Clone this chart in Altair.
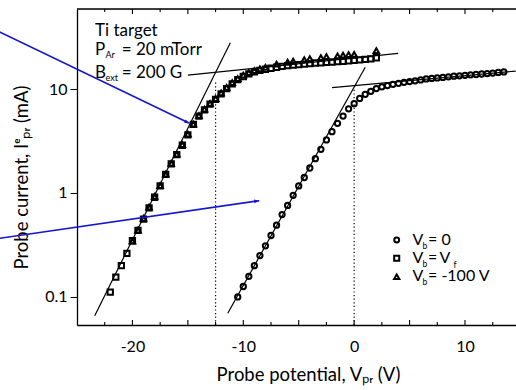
import altair as alt
import pandas as pd

FONT = "Lato"
BLUE = "#1414d2"

# ---- data ----
circ_x = [-10.5, -10.0, -9.5, -9.0, -8.5, -8.0, -7.5, -7.0, -6.5, -6.0, -5.5, -5.0, -4.5, -4.0,
          -3.5, -3.0, -2.5, -2.0, -1.5, -1.0, -0.5, 0.0, 0.5, 1.0, 1.5, 2.0, 2.5, 3.0, 3.5, 4.0,
          4.5, 5.0, 5.5, 6.0, 6.5, 7.0, 7.5, 8.0, 8.5, 9.0, 9.5, 10.0, 10.5, 11.0, 11.5, 12.0,
          12.5, 13.0, 13.5]
circ_y = [0.100, 0.126, 0.158, 0.20, 0.25, 0.31, 0.39, 0.49, 0.62, 0.76, 0.95, 1.17, 1.41, 1.74,
          2.14, 2.63, 3.24, 3.89, 4.68, 5.50, 6.46, 7.24, 8.13, 8.9, 9.5, 10.1, 10.5, 10.8, 11.1,
          11.35, 11.6, 11.8, 12.0, 12.25, 12.5, 12.65, 12.8, 12.95, 13.1, 13.3, 13.4, 13.55,
          13.7, 13.8, 13.95, 14.1, 14.25, 14.45, 14.6]

sq_x = [-22.0, -21.5, -21.0, -20.5, -20.0, -19.5, -19.0, -18.5, -18.0, -17.5, -17.0, -16.5,
        -16.0, -15.5, -15.0, -14.5, -14.0, -13.5, -13.0, -12.5, -12.0, -11.5, -11.0, -10.5,
        -10.0, -9.5, -9.0, -8.5, -8.0, -7.5, -7.0, -6.5, -6.0, -5.5, -5.0, -4.5, -4.0, -3.5,
        -3.0, -2.5, -2.0, -1.5, -1.0, -0.5, 0.0, 0.5, 1.0, 1.5, 2.0]
sq_y = [0.111, 0.155, 0.20, 0.263, 0.347, 0.437, 0.56, 0.72, 0.91, 1.17, 1.51, 1.91, 2.34,
        2.88, 3.63, 4.57, 5.5, 6.3, 7.16, 7.94, 9.0, 10.1, 11.2, 12.3, 13.2, 14.0, 14.6, 15.1,
        15.5, 15.85, 16.2, 16.5, 16.8, 17.0, 17.2, 17.4, 17.6, 17.8, 17.9, 18.1, 18.2, 18.4,
        18.5, 18.7, 18.9, 19.05, 19.3, 19.5, 20.0]

tri_x = [-20.0, -19.5, -19.0, -18.5, -18.0, -17.5, -17.0, -16.5, -16.0, -15.5, -15.0, -14.5,
         -14.0, -13.5, -13.0, -12.5, -12.0, -11.5, -11.0, -10.5, -10.0, -9.5, -9.0, -8.5,
         -8.0, -7.0, -6.0, -5.5, -4.5, -4.0, -3.0, -2.5, -1.5, -1.0, -0.5, 0.0, 2.0]
tri_y = [0.345, 0.44, 0.57, 0.73, 0.93, 1.18, 1.52, 1.93, 2.37, 2.92, 3.68, 4.6, 5.55, 6.4,
         7.3, 8.1, 9.2, 10.4, 11.5, 12.6, 13.6, 14.4, 15.0, 15.6, 16.2, 17.4, 18.2, 18.6,
         19.2, 19.6, 20.1, 20.5, 20.9, 21.2, 21.4, 21.6, 23.4]

# fitted straight lines (two end points each)
fit_id = ["a", "a", "b", "b", "c", "c", "d", "d"]
fit_x = [-23.4, -11.17, -15.0, 3.96, -11.4, 1.0, -2.0, 14.57]
fit_y = [0.066, 27.9, 13.6, 22.0, 0.0697, 16.2, 10.3, 14.9]

# dotted verticals at the knees
knee_x = [-12.5, 0.0]
knee_top = [12.0, 10.0]
Y_MIN, Y_MAX = 0.0537, 58.9
X_MIN, X_MAX = -25.0, 14.6

# blue annotation arrows (start -> tip)
arrow_x0 = [-32.0, -32.0]
arrow_y0 = [35.6, 0.366]
arrow_x1 = [-14.86, -8.56]
arrow_y1 = [4.68, 0.843]
arrow_angle = [25.7, 351.8]

major_ticks = [-20, -15, -10, -5, 0, 5, 10]
minor_ticks = [-22.5, -17.5, -12.5, -7.5, -2.5, 2.5, 7.5, 12.5]
y_labels = [0.1, 1, 10]

W, H = 439, 316

xs = alt.Scale(domain=[X_MIN, X_MAX], nice=False, zero=False)
ys = alt.Scale(type="log", domain=[Y_MIN, Y_MAX], nice=False)

circ = pd.DataFrame({"x": circ_x, "y": circ_y})
sq = pd.DataFrame({"x": sq_x, "y": sq_y})
tri = pd.DataFrame({"x": tri_x, "y": tri_y})
fits = pd.DataFrame({"id": fit_id, "x": fit_x, "y": fit_y})
knees = pd.DataFrame({"x": knee_x, "y": [Y_MIN] * len(knee_x), "y2": knee_top})
one = pd.DataFrame({"a": [0]})

x_axis = alt.Axis(values=[-20, -10, 0, 10], ticks=False, labelPadding=13, labelFontSize=16,
                  labelFont=FONT, labelColor="black", domainColor="black", domainWidth=1.3,
                  grid=False, title="Probe potential, Vₚᵣ  (V)", titleFont=FONT,
                  titleFontSize=18.5, titleFontWeight="normal", titleColor="black",
                  titleX=231, titleY=55, titleBaseline="alphabetic",
                  labelExpr="replace(datum.label, '−', '-')")
y_axis = alt.Axis(values=y_labels, format="~g", ticks=True, tickSize=7, tickColor="black",
                  labelPadding=3, labelFontSize=16, labelFont=FONT, labelColor="black",
                  domainColor="black", domainWidth=1.3, grid=False,
                  title="Probe current, Iᵉₚᵣ (mA)", titleFont=FONT, titleFontSize=18.5,
                  titleFontWeight="normal", titleColor="black", titleAngle=-90,
                  titleX=-50, titleY=168, titleBaseline="alphabetic", titleAlign="center")

X = alt.X("x:Q", scale=xs, axis=x_axis)
Y = alt.Y("y:Q", scale=ys, axis=y_axis)


def pts(df, shape, size):
    return alt.Chart(df).mark_point(shape=shape, filled=False, color="black", strokeWidth=2,
                                    size=size, opacity=1).encode(x=X, y=Y)


lines = alt.Chart(fits).mark_line(color="black", strokeWidth=1.2).encode(
    x=X, y=Y, detail="id:N")

dots = alt.Chart(knees).mark_rule(color="black", strokeWidth=1.2, strokeDash=[1.2, 2.4]).encode(
    x=X, y=Y, y2="y2:Q")

tick_layers = []
for vals, ln in [(major_ticks, 5), (minor_ticks, 3)]:
    tdf = pd.DataFrame({"x": vals})
    tick_layers.append(alt.Chart(tdf).mark_rule(color="black", strokeWidth=1.1).encode(
        x=X, y=alt.value(H), y2=alt.value(H - ln)))
    tick_layers.append(alt.Chart(tdf).mark_rule(color="black", strokeWidth=1.1).encode(
        x=X, y=alt.value(0), y2=alt.value(ln)))

top_border = alt.Chart(one).mark_rule(color="black", strokeWidth=1.3).encode(
    x=alt.value(0), x2=alt.value(W), y=alt.value(0))

arrow_layers = []
for i in range(len(arrow_x0)):
    adf = pd.DataFrame({"x": [arrow_x0[i], arrow_x1[i]], "y": [arrow_y0[i], arrow_y1[i]]})
    arrow_layers.append(alt.Chart(adf).mark_line(color=BLUE, strokeWidth=1.6).encode(x=X, y=Y))
    hdf = pd.DataFrame({"x": [arrow_x1[i]], "y": [arrow_y1[i]]})
    arrow_layers.append(alt.Chart(hdf).mark_point(
        shape="M0,0L-1,-0.38L-1,0.38Z", filled=True, color=BLUE, size=100, opacity=1,
        angle=arrow_angle[i]).encode(x=X, y=Y))


def label(txt, px, py, size=17):
    return alt.Chart(one).mark_text(text=txt, align="left", baseline="alphabetic",
                                    fontSize=size, font=FONT, color="black").encode(
        x=alt.value(px), y=alt.value(py))


texts = [
    label("Ti target", 18, 26.7),
    label("P", 18, 46), label("Ar", 28.5, 49, 9), label("= 20 mTorr", 44.7, 46),
    label("B", 18, 69.3), label("ext", 28.5, 71.5, 9), label("= 200 G", 44.7, 69.3),
]

legend_rows = [("circle", 24, 231, 236, "= 0"), ("square", 26, 249.3, 253.7, "="),
               ("triangle-up", 28, 267.7, 271.7, "= -100 V")]
for shape, sz, my, by, rest in legend_rows:
    texts.append(alt.Chart(one).mark_point(shape=shape, filled=False, color="black",
                                           strokeWidth=2, size=sz, opacity=1).encode(
        x=alt.value(319.7), y=alt.value(my)))
    texts.append(label("V", 335.5, by, 16))
    texts.append(label("b", 345.5, by + 4, 8.5))
    texts.append(label(rest, 351, by, 16))
texts.append(label("V", 362.5, 253.7, 16))
texts.append(label("f", 376.5, 253.7 + 5, 8.5))

chart = alt.layer(
    pts(circ, "circle", 28), pts(sq, "square", 28), pts(tri, "triangle-up", 30), lines, dots,
    *tick_layers, top_border, *arrow_layers, *texts
).properties(
    width=W, height=H,
    autosize=alt.AutoSizeParams(type="none"),
    padding={"left": 77, "top": 9, "right": 0, "bottom": 65},
).configure_view(stroke=None).configure(background="white")

chart.save("out.html", embed_options={"renderer": "svg", "actions": False})
